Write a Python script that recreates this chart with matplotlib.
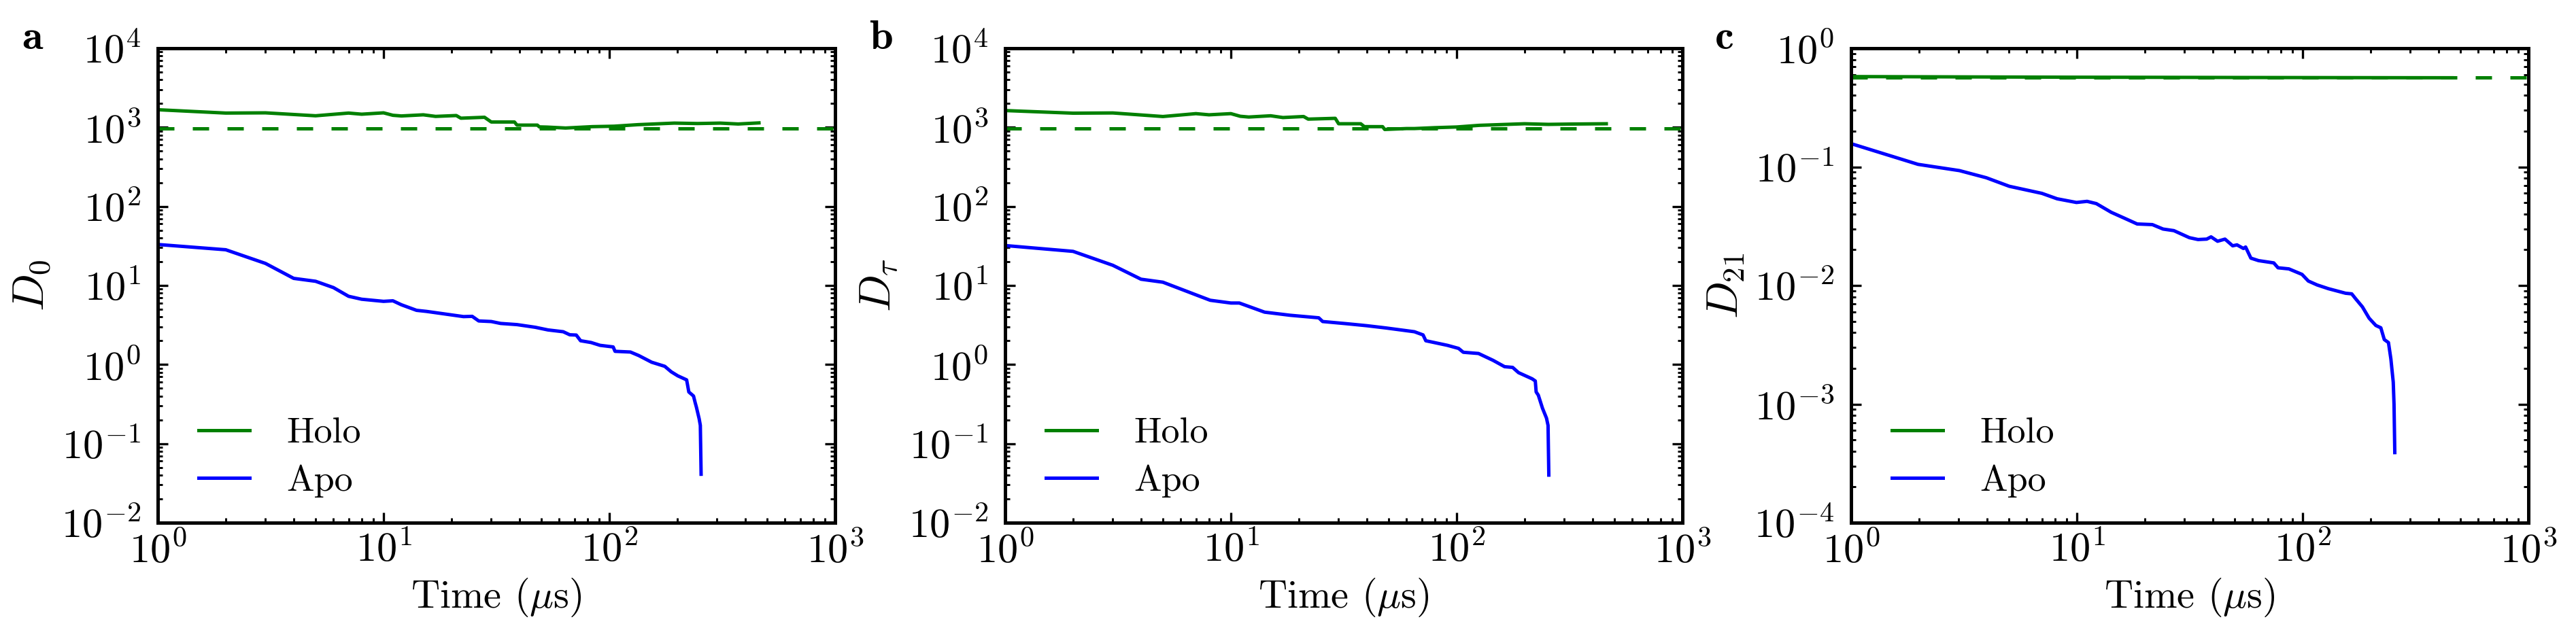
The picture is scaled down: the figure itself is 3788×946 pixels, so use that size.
import matplotlib
matplotlib.use('Agg')
import matplotlib.pyplot as plt
from matplotlib import ticker

# ---- data ----
holo_t_a = [1, 2, 3, 5, 7, 8, 10, 11, 12, 15, 17, 21, 22, 28, 30, 38, 39, 48, 49,
            53, 64, 84, 105, 134, 194, 246, 310, 372, 460]
holo_d0 = [1670, 1515, 1525, 1400, 1515, 1466, 1525, 1420, 1393, 1440, 1375, 1410,
           1305, 1340, 1168, 1168, 1067, 1067, 1013, 1007, 980, 1020, 1033, 1081,
           1131, 1117, 1131, 1102, 1138]

apo_t_a = [1, 2, 3, 4, 5, 6, 7, 8, 10, 11, 12, 14, 15.5, 22.6, 24.7, 26.4, 30, 33,
           39, 47, 53.5, 62.5, 66.8, 71.4, 74.6, 83, 91, 104, 106, 124, 135, 154,
           176, 188, 201, 220, 225, 236, 240, 243, 250, 253, 255]
apo_d0 = [33, 28.3, 19, 12.3, 11.3, 9.4, 7.3, 6.7, 6.3, 6.4, 5.7, 4.85, 4.7, 4.04,
          4.07, 3.56, 3.5, 3.31, 3.2, 2.96, 2.74, 2.6, 2.38, 2.36, 2.0, 1.9, 1.75,
          1.67, 1.47, 1.44, 1.3, 1.07, 0.95, 0.81, 0.72, 0.64, 0.45, 0.40, 0.33,
          0.29, 0.206, 0.17, 0.041]

holo_t_b = [1, 2, 3, 5, 7, 8, 10, 11, 12, 15, 17, 21, 22, 29, 30, 37.6, 39, 47, 48,
            60, 65, 80, 100, 126, 200, 255, 320, 460]
holo_dtau = [1630, 1510, 1520, 1370, 1490, 1440, 1490, 1380, 1350, 1400, 1330, 1370,
             1270, 1300, 1110, 1110, 1020, 1020, 940, 965, 965, 990, 1010, 1060,
             1110, 1090, 1100, 1110]

apo_t_b = [1, 2, 3, 4, 5, 7.1, 8.1, 10, 10.9, 14.1, 18.3, 24.5, 25.5, 32, 40, 48.7,
           65, 71, 73, 91, 102, 107, 125, 145, 163, 177, 188, 216, 223, 225, 230,
           240, 250, 254, 256]
apo_dtau = [32, 27, 18, 12, 11, 7.5, 6.5, 6.0, 6.0, 4.6, 4.2, 3.9, 3.5, 3.3, 3.1,
            2.9, 2.6, 2.37, 2.0, 1.75, 1.6, 1.43, 1.38, 1.13, 0.94, 0.92, 0.79, 0.66,
            0.62, 0.45, 0.41, 0.28, 0.21, 0.17, 0.04]

holo_t_c = [1, 2, 5, 10, 20, 50, 100, 200, 460]
holo_d21 = [0.577, 0.575, 0.572, 0.570, 0.569, 0.567, 0.566, 0.565, 0.564]

apo_t_c = [1, 1.98, 3.02, 3.97, 5.02, 7.0, 8.18, 9.96, 11.1, 12.2, 14.2, 16.2, 18.5,
           21.6, 24.1, 26.9, 31.5, 34.4, 37.6, 39.3, 42, 45.3, 49, 51.2, 54.7, 55.9,
           59, 63.8, 74.5, 77.8, 86.9, 99.4, 106, 116, 130, 155, 165, 172, 184, 197,
           211, 222, 230, 240, 246, 252, 254, 256]
apo_d21 = [0.157, 0.105, 0.093, 0.081, 0.0686, 0.0598, 0.0538, 0.0501, 0.0512,
           0.049, 0.0414, 0.037, 0.033, 0.0326, 0.0299, 0.029, 0.0253, 0.0244,
           0.0246, 0.0257, 0.0236, 0.0246, 0.0216, 0.022, 0.0205, 0.0211, 0.017,
           0.0162, 0.0155, 0.0141, 0.0138, 0.0124, 0.0109, 0.0101, 0.0094, 0.0086,
           0.0085, 0.0077, 0.0066, 0.0053, 0.0046, 0.0044, 0.0035, 0.0033, 0.0024,
           0.00153, 0.001, 0.00039]

# reference (dashed) levels for holo
ref_d0 = 970
ref_dtau = 960
ref_d21 = 0.564

panels = [
    ('a', r'$D_0$', holo_t_a, holo_d0, apo_t_a, apo_d0, ref_d0, (1e-2, 1e4)),
    ('b', r'$D_\tau$', holo_t_b, holo_dtau, apo_t_b, apo_dtau, ref_dtau, (1e-2, 1e4)),
    ('c', r'$D_{21}$', holo_t_c, holo_d21, apo_t_c, apo_d21, ref_d21, (1e-4, 1e0)),
]

plt.rcParams['font.family'] = 'serif'
plt.rcParams['font.serif'] = ['cmr10']
plt.rcParams['mathtext.fontset'] = 'cm'
plt.rcParams['axes.formatter.use_mathtext'] = True
plt.rcParams['axes.unicode_minus'] = False
plt.rcParams['axes.linewidth'] = 1.2
for axis in ('xtick', 'ytick'):
    plt.rcParams[axis + '.direction'] = 'in'
    plt.rcParams[axis + '.major.size'] = 3.6
    plt.rcParams[axis + '.minor.size'] = 1.7
    plt.rcParams[axis + '.major.width'] = 0.8
    plt.rcParams[axis + '.minor.width'] = 0.7
    plt.rcParams[axis + '.labelsize'] = 14.5
plt.rcParams['xtick.top'] = True
plt.rcParams['ytick.right'] = True
plt.rcParams['xtick.major.pad'] = 3
plt.rcParams['ytick.major.pad'] = 6

W, H = 3788, 946
fig = plt.figure(figsize=(W / 300, H / 300), dpi=300)

lefts = [232, 1478, 2722]
ax_w, ax_top, ax_bot = 996, 71, 769

green, blue = (0, 0.5, 0), (0, 0, 1)

for left, (tag, ylab, ht, hv, at, av, ref, ylim) in zip(lefts, panels):
    ax = fig.add_axes([left / W, 1 - ax_bot / H, ax_w / W, (ax_bot - ax_top) / H])
    ax.plot(ht, hv, color=green, lw=1.2, label='Holo')
    ax.plot(at, av, color=blue, lw=1.2, label='Apo')
    ax.axhline(ref, color=green, lw=1.2, dashes=(4.8, 5.4))
    ax.set_xscale('log')
    ax.set_yscale('log')
    ax.set_xlim(1, 1000)
    ax.set_ylim(*ylim)
    for axis in (ax.xaxis, ax.yaxis):
        axis.set_major_locator(ticker.LogLocator(base=10, numticks=20))
        axis.set_minor_locator(ticker.LogLocator(base=10, subs=range(2, 10),
                                                 numticks=20))
        axis.set_minor_formatter(ticker.NullFormatter())
    ax.set_xlabel(r'Time ($\mu$s)', fontsize=14, labelpad=2)
    ax.set_ylabel(ylab, fontsize=15.5)
    ax.yaxis.set_label_coords(-0.155, 0.5)
    ax.legend(loc='lower left', bbox_to_anchor=(0.038, 0.022), frameon=False,
              fontsize=13, handlelength=1.4, handletextpad=1.0,
              borderaxespad=0, labelspacing=0.4)
    fig.text((left - 200) / W, 1 - 72 / H, tag, fontsize=15, family='cmb10',
             va='baseline', ha='left')

fig.savefig('out.png', dpi=300)
